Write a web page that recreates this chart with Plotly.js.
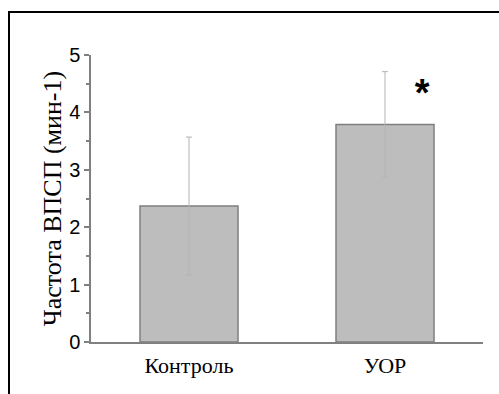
<!DOCTYPE html>
<html>
<head>
<meta charset="utf-8">
<script src="https://cdn.plot.ly/plotly-3.0.1.min.js"></script>
<style>
html,body{margin:0;padding:0;width:499px;height:394px;overflow:hidden;background:#fff;}
#frame{position:absolute;left:8px;top:11px;width:600px;height:500px;border:2px solid #000;box-sizing:border-box;pointer-events:none;}
#chart{position:absolute;left:0;top:0;width:499px;height:394px;}
</style>
</head>
<body>
<div id="chart"></div>
<div id="frame"></div>
<script>
const categories = ["Контроль", "УОР"];
const means = [2.37, 3.79];
const errors = [1.2, 0.92];
const markText = ["", "*"];
const markX = [0.2, 1.19];
const markY = [null, 4.28];
const yTicks = [0, 1, 2, 3, 4, 5];

const SERIF = 'Liberation Serif';

const bars = {
  type: 'bar',
  x: categories,
  y: means,
  width: 0.5,
  marker: {color: '#bdbdbd', line: {color: '#7f7f7f', width: 1.5}},
  error_y: {type: 'data', array: errors, visible: true, color: '#b4b4b4', thickness: 1, width: 3},
  hoverinfo: 'none'
};
const stars = {
  type: 'scatter',
  mode: 'text',
  x: markX,
  y: markY,
  text: markText,
  textposition: 'middle center',
  xaxis: 'x2',
  textfont: {family: 'Arial', size: 38, color: '#000', weight: 'bold'},
  hoverinfo: 'none'
};

const layout = {
  width: 499, height: 394,
  margin: {l: 91, r: 16, t: 55, b: 52},
  paper_bgcolor: 'rgba(0,0,0,0)',
  plot_bgcolor: 'rgba(0,0,0,0)',
  showlegend: false,
  xaxis: {
    type: 'category',
    range: [-0.5, 1.5],
    showline: true, linecolor: '#808080', linewidth: 1.5,
    ticks: '', showgrid: false, zeroline: false,
    tickfont: {family: SERIF, size: 22, color: '#000'},
    ticklabelstandoff: 3,
    fixedrange: true
  },
  xaxis2: {
    overlaying: 'x', range: [-0.5, 1.5], visible: false, type: 'linear'
  },
  yaxis: {
    range: [0, 5],
    tickvals: yTicks,
    showline: true, linecolor: '#808080', linewidth: 1.5,
    ticks: 'outside', ticklen: 5, tickcolor: '#808080', tickwidth: 1.5,
    minor: {dtick: 0.5, ticks: 'outside', ticklen: 3, tickcolor: '#808080', tickwidth: 1.5},
    showgrid: false, zeroline: false,
    tickfont: {family: 'Arial', size: 20, color: '#000'},
    title: {text: 'Частота ВПСП (мин-1)', font: {family: SERIF, size: 26, color: '#000'}, standoff: 0},
    fixedrange: true
  }
};
Plotly.newPlot('chart', [bars, stars], layout, {displayModeBar: false});
</script>
</body>
</html>
